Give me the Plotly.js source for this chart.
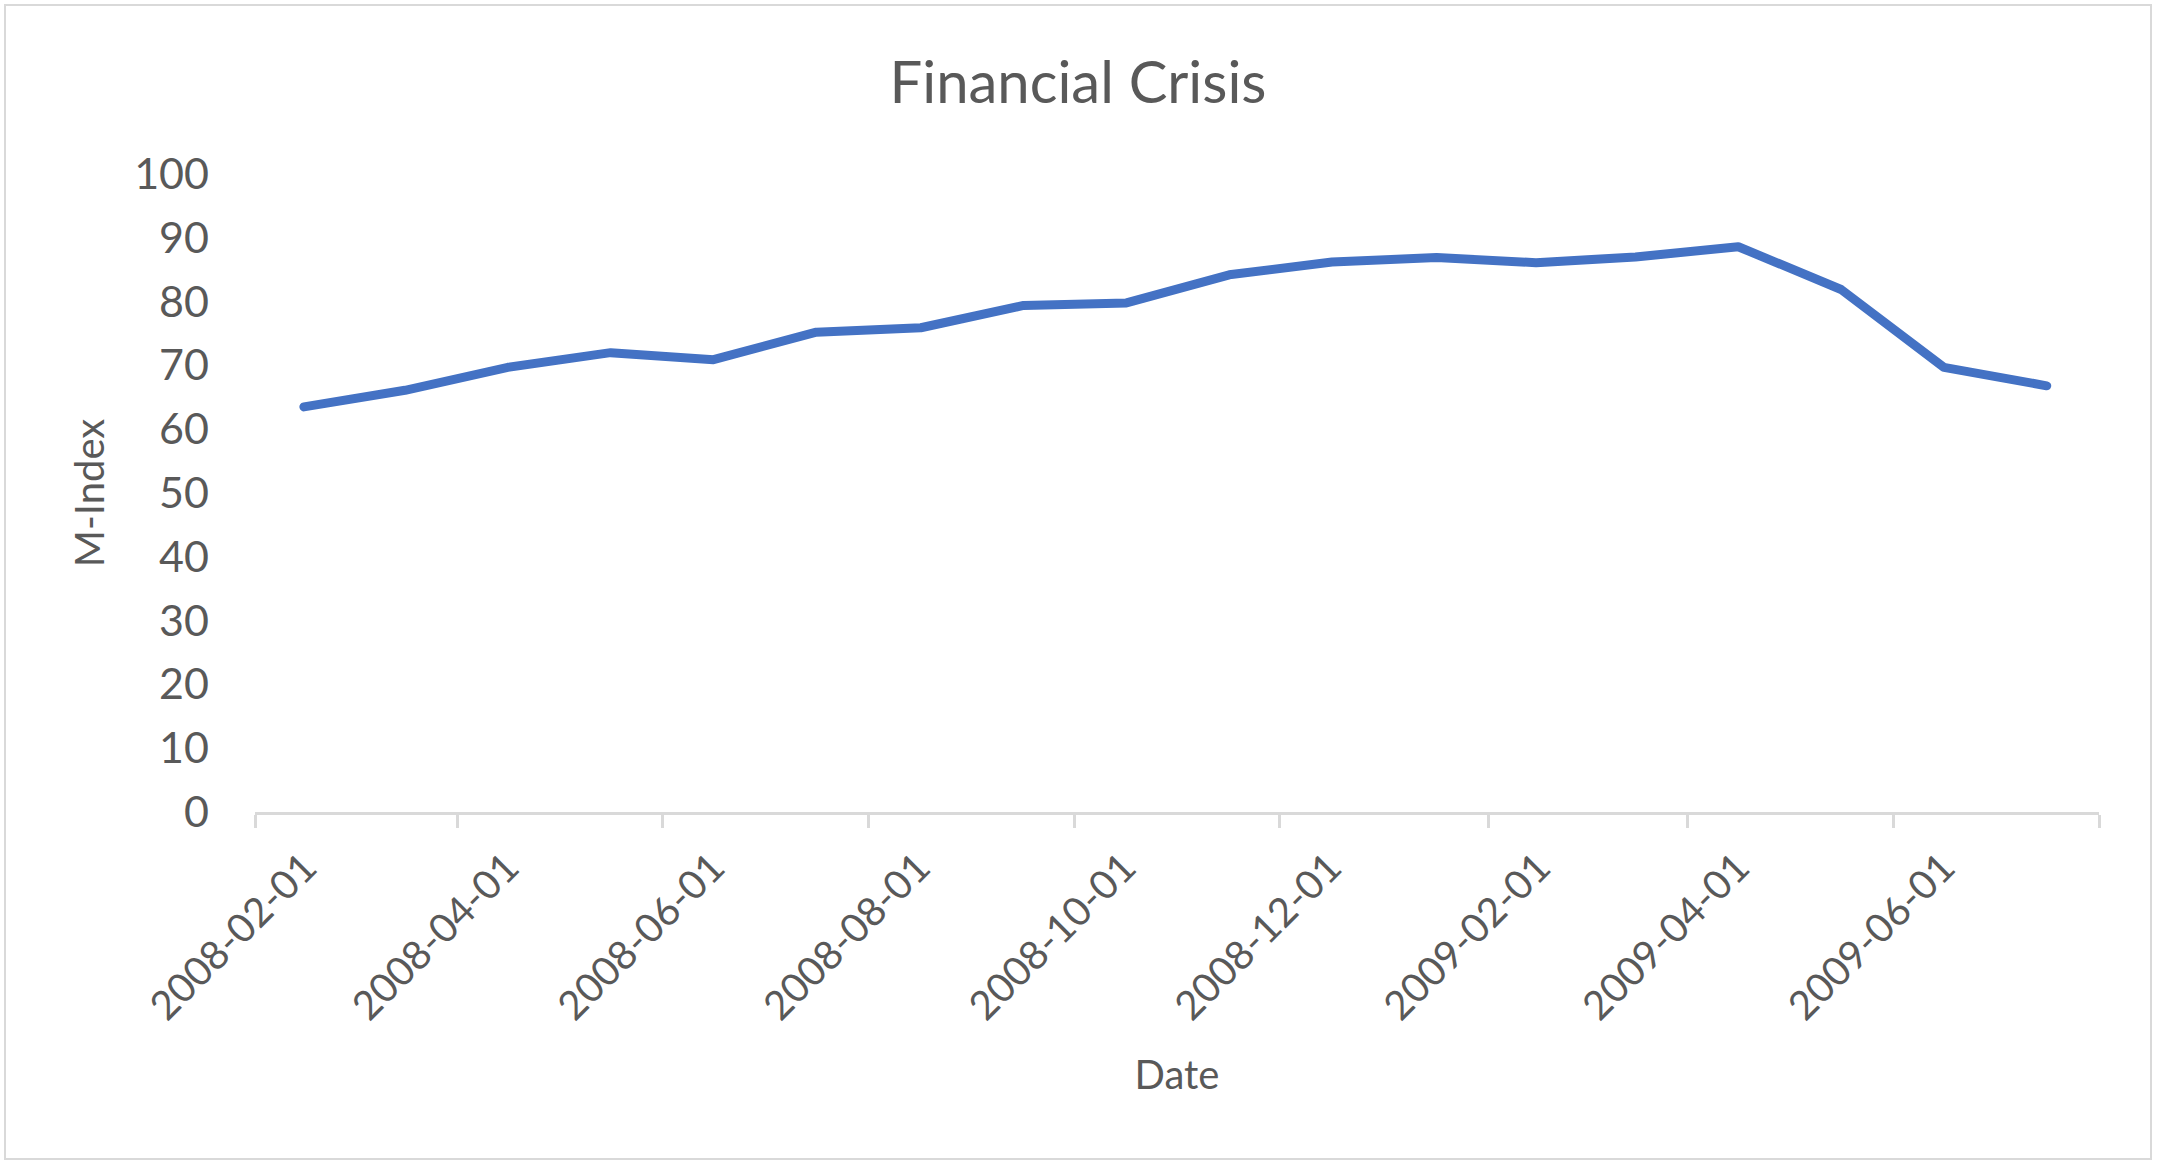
<!DOCTYPE html>
<html>
<head>
<meta charset="utf-8">
<script src="https://cdn.plot.ly/plotly-3.0.1.min.js"></script>
<style>
    html, body { margin: 0; padding: 0; background: #fff; }
    #chart {
        position: absolute; left: 4px; top: 4px;
        width: 2144px; height: 1152px;
        border: 2px solid #d9d9d9;
    }
    .scatterlayer path.js-line { stroke-linecap: round; stroke-linejoin: round; }
</style>
</head>
<body>
<div id="chart"></div>
<script>
    // monthly M-Index readings
    let months = ['2008-02-01', '2008-03-01', '2008-04-01', '2008-05-01', '2008-06-01', '2008-07-01',
        '2008-08-01', '2008-09-01', '2008-10-01', '2008-11-01', '2008-12-01', '2009-01-01',
        '2009-02-01', '2009-03-01', '2009-04-01', '2009-05-01', '2009-06-01', '2009-07-01'];
    let mIndex = [63.5, 66.1, 69.7, 72.0, 70.9, 75.2, 75.9, 79.4, 79.8, 84.2, 86.2, 86.9,
        86.1, 87.0, 88.6, 81.9, 69.7, 66.8];

    // axis ticks, every two months; the last tick has no label
    let tickDates = ['2008-02-01', '2008-04-01', '2008-06-01', '2008-08-01', '2008-10-01',
        '2008-12-01', '2009-02-01', '2009-04-01', '2009-06-01', '2009-08-01'];
    let tickLabels = ['2008-02-01', '2008-04-01', '2008-06-01', '2008-08-01', '2008-10-01',
        '2008-12-01', '2009-02-01', '2009-04-01', '2009-06-01', ''];

    let font = 'Lato, "Open Sans", sans-serif';
    let grey = '#595959';

    Plotly.newPlot('chart', [{
        type: 'scatter',
        mode: 'lines',
        x: months,
        y: mIndex,
        xperiod: 'M1',
        xperiodalignment: 'middle',
        line: {color: '#4472C4', width: 9},
        hoverinfo: 'x+y'
    }], {
        width: 2144,
        height: 1152,
        margin: {l: 249, r: 51, t: 168, b: 346},
        paper_bgcolor: '#fff',
        plot_bgcolor: '#fff',
        showlegend: false,
        font: {family: font, color: grey},
        title: {
            text: 'Financial Crisis',
            font: {family: font, size: 58, color: grey},
            x: 0.5, xref: 'container',
            y: 0.933, yref: 'container', yanchor: 'middle'
        },
        xaxis: {
            type: 'date',
            range: ['2008-02-01', '2009-08-01'],
            tickmode: 'array',
            tickvals: tickDates,
            ticktext: tickLabels,
            tickangle: -45,
            tickfont: {family: font, size: 40, color: grey},
            ticklabelshift: 50,
            ticks: 'outside',
            ticklen: 13,
            tickwidth: 3,
            tickcolor: '#d9d9d9',
            showline: true,
            linecolor: '#d9d9d9',
            linewidth: 3,
            showgrid: false,
            zeroline: false,
            title: {text: 'Date', font: {family: font, size: 40, color: grey}, standoff: 34}
        },
        yaxis: {
            range: [0, 100],
            dtick: 10,
            tick0: 0,
            ticks: '',
            tickfont: {family: font, size: 43, color: grey},
            ticklabelstandoff: 45,
            showline: false,
            showgrid: false,
            zeroline: false,
            title: {text: 'M-Index', font: {family: font, size: 40, color: grey}, standoff: 17}
        }
    }, {displayModeBar: false, staticPlot: true});
</script>
</body>
</html>
